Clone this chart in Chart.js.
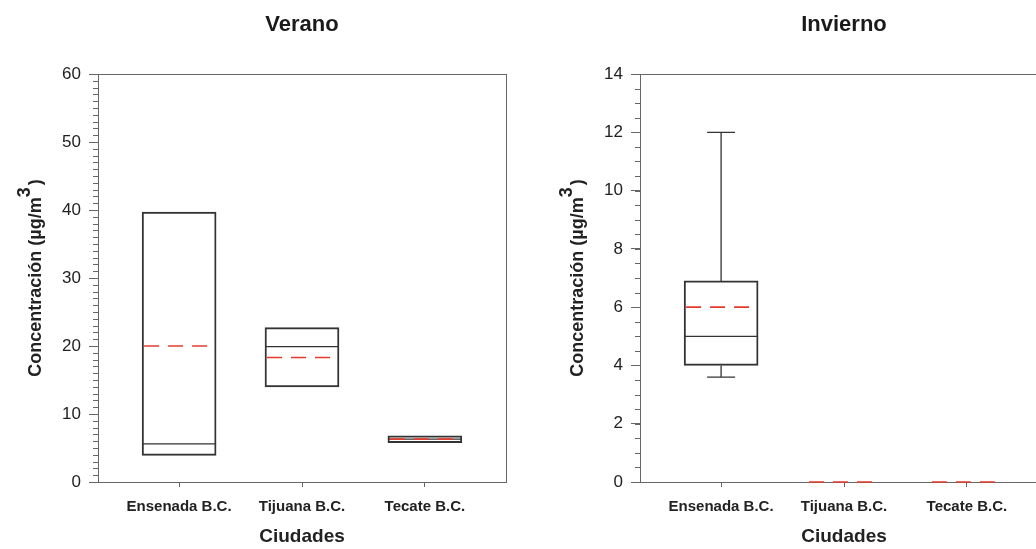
<!DOCTYPE html>
<html lang="es">
<head>
<meta charset="utf-8">
<script src="https://cdn.jsdelivr.net/npm/chart.js@4.4.1/dist/chart.umd.min.js"></script>
<style>
  html, body { margin: 0; padding: 0; background: #fff; overflow: hidden; width: 1036px; height: 549px; }
  .panel { position: absolute; top: 0; width: 520px; height: 549px; }
  #p1 { left: 0; }
  #p2 { left: 542px; }
</style>
</head>
<body>
<div class="panel" id="p1"><canvas id="verano"></canvas></div>
<div class="panel" id="p2"><canvas id="invierno"></canvas></div>
<script>
const ciudades = ['Ensenada B.C.', 'Tijuana B.C.', 'Tecate B.C.'];

// Verano: cajas (min, Q1, mediana, Q3, max) y media
const veranoMin = [3.9, 14.0, 5.8];
const veranoQ1 = [3.9, 14.0, 5.8];
const veranoMediana = [5.6, 19.9, 6.3];
const veranoQ3 = [39.7, 22.7, 6.8];
const veranoMax = [39.7, 22.7, 6.8];
const veranoMedia = [20.0, 18.3, 6.3];

// Invierno
const inviernoMin = [3.6, 0, 0];
const inviernoQ1 = [4.0, 0, 0];
const inviernoMediana = [5.0, 0, 0];
const inviernoQ3 = [6.9, 0, 0];
const inviernoMax = [12.0, 0, 0];
const inviernoMedia = [6.0, 0, 0];

const FUENTE = 'Arial, "Liberation Sans", Helvetica, sans-serif';
const NEGRO = '#333';
const ROJO = '#e23b2e';
const MARCO = '#666';

// marco, marcas menores del eje y, titulo del panel y titulo del eje y
const marcoPlugin = {
  id: 'marco',
  afterDraw(chart, args, opts) {
    const { ctx, chartArea: a, scales: { y } } = chart;
    ctx.save();
    ctx.strokeStyle = MARCO;
    ctx.lineWidth = 1;
    ctx.strokeRect(a.left + 0.5, a.top + 0.5, a.width, a.height);
    ctx.beginPath();
    for (let v = y.min; v <= y.max + 1e-9; v += opts.menor) {
      const py = Math.round(y.getPixelForValue(v)) + 0.5;
      ctx.moveTo(a.left - 5, py);
      ctx.lineTo(a.left, py);
    }
    ctx.stroke();

    ctx.fillStyle = '#1a1a1a';
    ctx.font = 'bold 22px ' + FUENTE;
    ctx.textAlign = 'center';
    ctx.textBaseline = 'middle';
    ctx.fillText(opts.titulo, (a.left + a.right) / 2, 25);

    // Concentración (µg/m3) con el 3 en superíndice
    const base = 'Concentración (µg/m';
    ctx.fillStyle = '#222';
    ctx.font = 'bold 18px ' + FUENTE;
    const w1 = ctx.measureText(base).width;
    const w2 = ctx.measureText('3').width;
    const w3 = ctx.measureText(')').width;
    const total = w1 + w2 + w3 + 2;
    ctx.translate(opts.tituloX, (a.top + a.bottom) / 2);
    ctx.rotate(-Math.PI / 2);
    ctx.textAlign = 'left';
    ctx.textBaseline = 'alphabetic';
    let px = -total / 2;
    ctx.fillText(base, px, 0);
    px += w1;
    ctx.fillText('3', px, -11);
    px += w2 + 2;
    ctx.fillText(')', px, 0);
    ctx.restore();
  }
};

// medianas, medias y bigotes sobre las barras flotantes (Q1-Q3);
// va después del marco para que la media en cero quede visible
const cajasPlugin = {
  id: 'cajas',
  afterDraw(chart, args, opts) {
    const { ctx, scales: { x, y } } = chart;
    const mitad = opts.ancho / 2;
    ctx.save();
    ctx.lineCap = 'butt';
    opts.mediana.forEach((m, i) => {
      const cx = x.getPixelForValue(i + 1);
      ctx.strokeStyle = NEGRO;
      ctx.lineWidth = 1.3;
      ctx.setLineDash([]);
      if (opts.max[i] > opts.q3[i]) {
        const yTop = y.getPixelForValue(opts.max[i]);
        ctx.beginPath();
        ctx.moveTo(cx, y.getPixelForValue(opts.q3[i]));
        ctx.lineTo(cx, yTop);
        ctx.moveTo(cx - 14, yTop);
        ctx.lineTo(cx + 14, yTop);
        ctx.stroke();
      }
      if (opts.min[i] < opts.q1[i]) {
        const yBot = y.getPixelForValue(opts.min[i]);
        ctx.beginPath();
        ctx.moveTo(cx, y.getPixelForValue(opts.q1[i]));
        ctx.lineTo(cx, yBot);
        ctx.moveTo(cx - 14, yBot);
        ctx.lineTo(cx + 14, yBot);
        ctx.stroke();
      }
      if (opts.q3[i] > opts.q1[i]) {
        const ym = y.getPixelForValue(m);
        ctx.beginPath();
        ctx.moveTo(cx - mitad, ym);
        ctx.lineTo(cx + mitad, ym);
        ctx.stroke();
      }
      const yMedia = y.getPixelForValue(opts.media[i]);
      ctx.strokeStyle = ROJO;
      ctx.lineWidth = 1.6;
      ctx.setLineDash([15, 9]);
      ctx.beginPath();
      ctx.moveTo(cx - mitad + 2, yMedia);
      ctx.lineTo(cx + mitad - 2, yMedia);
      ctx.stroke();
    });
    ctx.restore();
  }
};

function crearPanel(id, titulo, q1, mediana, q3, min, max, media, yMax, yPaso, yMenor) {
  return new Chart(document.getElementById(id), {
    type: 'bar',
    data: {
      datasets: [{
        data: ciudades.map((c, i) => ({ x: i + 1, y: [q1[i], q3[i]] })),
        backgroundColor: 'rgba(255,255,255,0)',
        borderColor: NEGRO,
        borderWidth: 1.3,
        borderSkipped: false,
        barThickness: 74
      }]
    },
    options: {
      responsive: true,
      maintainAspectRatio: false,
      animation: false,
      layout: { padding: { top: 74, right: 14, left: 0, bottom: 0 } },
      plugins: {
        legend: { display: false },
        tooltip: { enabled: false },
        cajas: { q1, mediana, q3, min, max, media, ancho: 74 },
        marco: { titulo, menor: yMenor, tituloX: 41 }
      },
      scales: {
        x: {
          type: 'linear',
          min: 0.34,
          max: 3.66,
          offset: false,
          afterBuildTicks: s => { s.ticks = ciudades.map((c, i) => ({ value: i + 1 })); },
          afterFit: s => { s.height = 67; },
          grid: { offset: false, drawOnChartArea: false, tickLength: 5, tickColor: MARCO, tickWidth: 1 },
          border: { display: false },
          ticks: {
            callback: v => ciudades[v - 1],
            autoSkip: false,
            maxRotation: 0,
            padding: 11,
            color: '#222',
            font: { family: FUENTE, size: 15, weight: 'bold' }
          },
          title: {
            display: true,
            text: 'Ciudades',
            color: '#222',
            padding: { top: 0, bottom: 1 },
            font: { family: FUENTE, size: 19, weight: 'bold' }
          }
        },
        y: {
          min: 0,
          max: yMax,
          afterFit: s => { s.width = 98; },
          grid: { drawOnChartArea: false, tickLength: 9, tickColor: MARCO, tickWidth: 1 },
          border: { display: false },
          ticks: {
            stepSize: yPaso,
            padding: 8,
            color: '#222',
            font: { family: FUENTE, size: 17 }
          }
        }
      }
    },
    plugins: [marcoPlugin, cajasPlugin]
  });
}

crearPanel('verano', 'Verano', veranoQ1, veranoMediana, veranoQ3, veranoMin, veranoMax, veranoMedia, 60, 10, 1);
crearPanel('invierno', 'Invierno', inviernoQ1, inviernoMediana, inviernoQ3, inviernoMin, inviernoMax, inviernoMedia, 14, 2, 0.5);
</script>
</body>
</html>
